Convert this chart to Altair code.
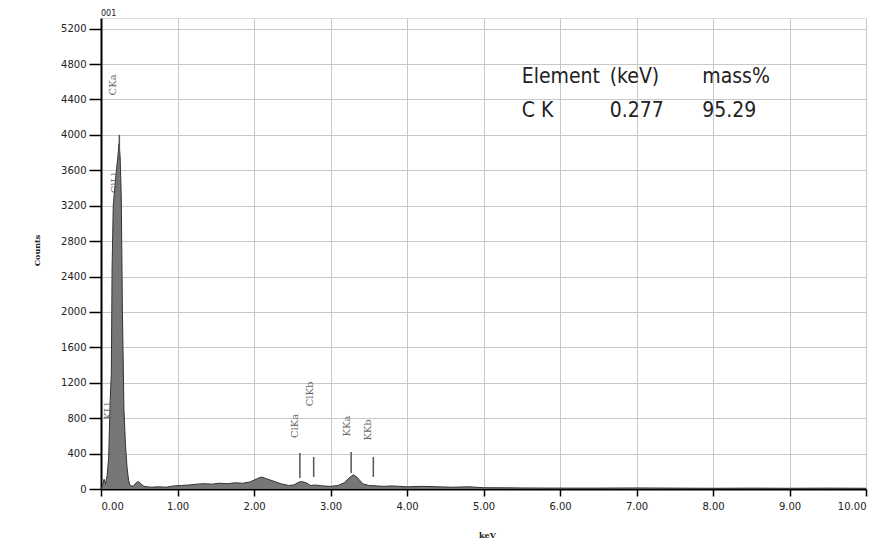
import altair as alt
import pandas as pd

# Spectrum (keV, counts)
kev = [0.00, 0.02, 0.04, 0.06, 0.08, 0.10, 0.12, 0.135, 0.145, 0.16, 0.19, 0.22, 0.235,
       0.25, 0.265, 0.28, 0.30, 0.32, 0.34, 0.36, 0.38, 0.42, 0.46, 0.49, 0.52, 0.56, 0.65,
       0.75, 0.85, 0.95, 1.05, 1.15, 1.25, 1.35, 1.45, 1.55, 1.65, 1.75, 1.85, 1.95,
       2.05, 2.10, 2.15, 2.25, 2.35, 2.45, 2.52, 2.58, 2.62, 2.68, 2.74, 2.80, 2.90,
       3.00, 3.10, 3.18, 3.25, 3.30, 3.35, 3.42, 3.50, 3.60, 3.70, 3.80, 3.90, 4.00,
       4.20, 4.40, 4.60, 4.80, 5.00, 5.50, 6.00, 6.50, 7.00, 7.50, 8.00, 8.50, 9.00,
       9.50, 10.00]
counts = [0, 40, 110, 60, 150, 350, 1000, 1300, 2500, 3200, 3500, 3750, 3900,
          3750, 3300, 2000, 900, 500, 250, 100, 40, 30, 70, 85, 60, 30, 20,
          25, 20, 35, 40, 45, 55, 60, 55, 65, 60, 70, 65, 80,
          120, 135, 120, 90, 60, 40, 45, 75, 85, 70, 40, 45, 35,
          30, 40, 70, 130, 160, 130, 60, 40, 35, 30, 35, 30, 25,
          30, 25, 20, 25, 15, 12, 10, 10, 12, 10, 8, 10, 8,
          10, 8]

# Peak marker lines
mark_kev = [0.24, 2.60, 2.78, 3.27, 3.56]
mark_lo = [3720, 124, 136, 181, 136]
mark_hi = [4000, 407, 362, 418, 362]

# Peak labels (rotated)
lab_text = ["CKa", "ClLl", "KLl", "ClKa", "ClKb", "KKa", "KKb"]
lab_kev = [0.16, 0.18, 0.09, 2.54, 2.73, 3.22, 3.49]
lab_cnt = [4565, 3457, 880, 712, 1073, 712, 667]

# Result table
tab_text = ["Element", "(keV)", "mass%", "C K", "0.277", "95.29"]
tab_kev = [5.50, 6.65, 7.86, 5.50, 6.65, 7.86]
tab_cnt = [4588, 4588, 4588, 4203, 4203, 4203]

spec = pd.DataFrame({"keV": kev, "Counts": counts})
marks = pd.DataFrame({"keV": mark_kev, "lo": mark_lo, "hi": mark_hi})
labs = pd.DataFrame({"keV": lab_kev, "Counts": lab_cnt, "t": lab_text})
tab = pd.DataFrame({"keV": tab_kev, "Counts": tab_cnt, "t": tab_text})
corner = pd.DataFrame({"keV": [0.0], "Counts": [5360], "t": ["001"]})

xs = alt.Scale(domain=[0, 10], nice=False, zero=False)
ys = alt.Scale(domain=[0, 5320], nice=False, zero=False)

xaxis = alt.Axis(values=list(range(0, 11)), format=".2f", title="keV",
                 labelFont="DejaVu Sans", labelFontSize=10, labelColor="#222",
                 tickSize=7, tickColor="black", tickWidth=1.5, labelPadding=5,
                 domainColor="black", domainWidth=2, gridColor="#c8c8c8", gridWidth=1,
                 titleFont="DejaVu Serif", titleFontSize=8, titleFontWeight="bold",
                 titleX=386, titleY=46, titleBaseline="middle", titleColor="#222")
yaxis = alt.Axis(values=list(range(0, 5201, 400)), format="d", title="Counts",
                 labelFont="DejaVu Sans", labelFontSize=10, labelColor="#222",
                 labelOverlap=False,
                 tickSize=12, tickColor="black", tickWidth=1.5, labelPadding=3,
                 domainColor="black", domainWidth=2, gridColor="#c8c8c8", gridWidth=1,
                 titleFont="DejaVu Serif", titleFontSize=8, titleFontWeight="bold",
                 titleX=-64, titleY=232, titleBaseline="middle", titleColor="#222")

X = lambda f: alt.X(f, scale=xs, axis=xaxis)
Y = lambda f: alt.Y(f, scale=ys, axis=yaxis)

base = alt.Chart(spec)
area = base.mark_area(color="#707070", opacity=0.95).encode(x=X("keV:Q"), y=Y("Counts:Q"))
line = base.mark_line(color="#333333", strokeWidth=1).encode(x=X("keV:Q"), y=Y("Counts:Q"))
rules = alt.Chart(marks).mark_rule(color="#555555", strokeWidth=1.5).encode(
    x=X("keV:Q"), y=Y("lo:Q"), y2="hi:Q"
)
labels = alt.Chart(labs).mark_text(angle=270, font="DejaVu Serif", fontSize=10,
                                   color="#666666", baseline="middle", align="center").encode(
    x=X("keV:Q"), y=Y("Counts:Q"), text="t:N"
)
table = alt.Chart(tab).mark_text(font="DejaVu Sans Condensed, Liberation Sans", fontSize=21,
                                 color="#222", align="left", baseline="alphabetic").encode(
    x=X("keV:Q"), y=Y("Counts:Q"), text="t:N"
)
corner_t = alt.Chart(corner).mark_text(font="DejaVu Sans", fontSize=8, color="#222",
                                       align="left", baseline="middle", clip=False).encode(
    x=X("keV:Q"), y=Y("Counts:Q"), text="t:N"
)

chart = alt.layer(area, line, rules, labels, table, corner_t).properties(
    width=765, height=471,
    autosize=alt.AutoSizeParams(type="none"),
    padding={"left": 93, "top": 10, "right": 8, "bottom": 50},
).configure_view(stroke="black", strokeWidth=1.5).configure(background="white")

chart.save("out.html", embed_options={"renderer": "svg", "actions": False})
